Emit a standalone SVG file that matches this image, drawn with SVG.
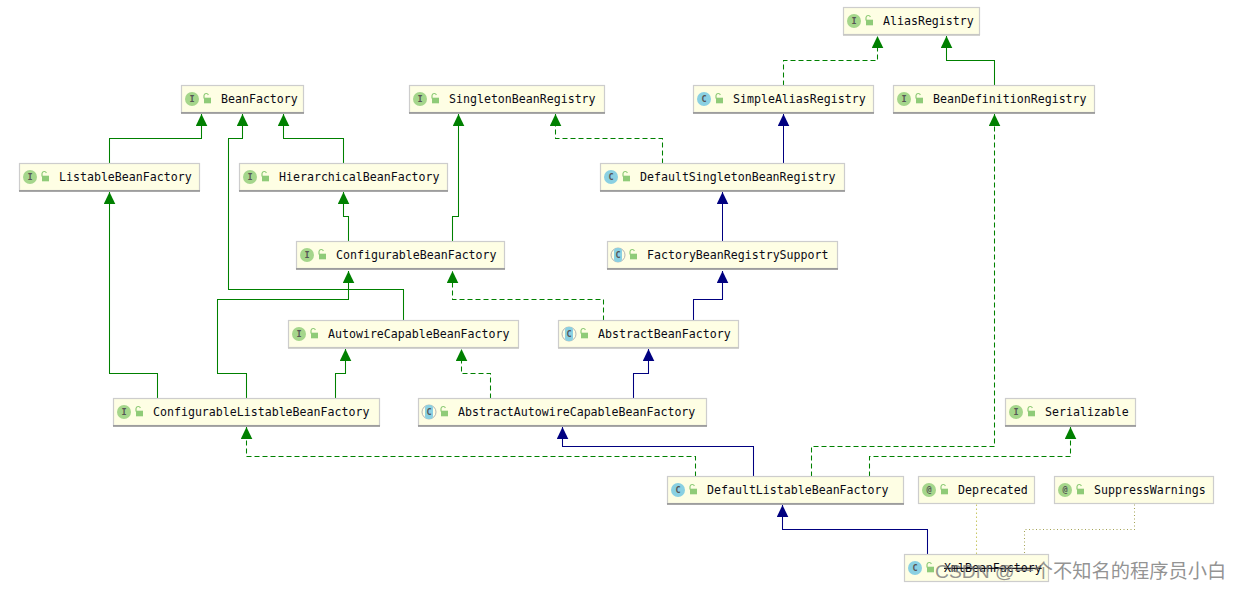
<svg xmlns="http://www.w3.org/2000/svg" width="1239" height="590" viewBox="0 0 1239 590">
<style>
.box{fill:#fefee4;stroke:#cdcdcd;stroke-width:1.2}
.base{stroke:#8c8c8c;stroke-width:1.4;fill:none}
.pale{stroke:#c4c4c0;stroke-width:1.4;fill:none}
.name{font-family:"DejaVu Sans Mono","Liberation Mono",monospace;font-size:11.6px;fill:#0a0a14}
.glyph{font-family:"DejaVu Sans Mono","Liberation Mono",monospace;font-size:8.5px;font-weight:bold;fill:#555;text-anchor:middle}
.i{fill:#a5d68b}
.c{fill:#8ad0e2}
.ring{fill:none;stroke:#b5b5b5;stroke-width:1}
.wire{fill:none;stroke-width:1.05}
.g{stroke:#008000;marker-end:url(#ag)}
.n{stroke:#000080;marker-end:url(#an)}
.d{stroke-dasharray:5 3}
.y{stroke:#c9c765;stroke-dasharray:1.5 2.5}
.w{stroke:#a3a356;stroke-dasharray:1 2.5}
.mark{font-family:"Liberation Sans","Noto Sans CJK SC",sans-serif;font-size:19.25px;fill:#777;fill-opacity:.8}
</style>
<defs>
<marker id="ag" markerUnits="userSpaceOnUse" markerWidth="12" markerHeight="12" refX="12" refY="6" orient="auto"><path d="M0 0.2L12 6L0 11.8z" fill="#008000"/></marker>
<marker id="an" markerUnits="userSpaceOnUse" markerWidth="12" markerHeight="12" refX="12" refY="6" orient="auto"><path d="M0 0.2L12 6L0 11.8z" fill="#000080"/></marker>
<g id="lock"><path d="M2 0.5V-2.5a2.3 2.3 0 0 1 4.4 -.6" fill="none" stroke="#8fcb78" stroke-width="1.2"/><rect x="2" y="-0.3" width="7" height="5.6" fill="#8fcb78"/></g>
</defs>

<g id="connectors" transform="translate(.5 .5)">
<path class="wire g" d="M109 163V138H201V113.500"/>
<path class="wire g" d="M403 320V289H228V138H242V113.500"/>
<path class="wire g" d="M343 163V138H283V113.500"/>
<path class="wire g" d="M348 241V216H343V191.500"/>
<path class="wire g" d="M452 241V216H458V113.500"/>
<path class="wire g d" d="M783 85V60H877V35.500"/>
<path class="wire g" d="M994 85V60H946V35.500"/>
<path class="wire n" d="M783 163V113.500"/>
<path class="wire g d" d="M662 163V138H555V113.500"/>
<path class="wire n" d="M722 241V191.500"/>
<path class="wire n" d="M693 320V299H722V270.500"/>
<path class="wire g d" d="M603 320V299H452V270.500"/>
<path class="wire g" d="M246 398V373H217V299H348V270.500"/>
<path class="wire g" d="M157 398V373H109V191.500"/>
<path class="wire g" d="M335 398V373H345V348.500"/>
<path class="wire g d" d="M490 398V373H461V348.500"/>
<path class="wire n" d="M633 398V373H648V348.500"/>
<path class="wire n" d="M753 476V446H562V426.500"/>
<path class="wire g d" d="M695 476V456H246V426.500"/>
<path class="wire g d" d="M811 476V446H994V113.500"/>
<path class="wire g d" d="M869 476V456H1070V426.500"/>
<path class="wire n" d="M927 554V529H782V504.500"/>
<path class="wire y" d="M976 504V554"/>
<path class="wire w" d="M1134 504V529H1024V554"/>
</g>

<g id="AliasRegistry"><rect class="box" x="843.500" y="7.500" width="136" height="27"/><path class="pale" d="M843 35H980"/><circle class="i" cx="854" cy="21" r="7"/><text class="glyph" x="854" y="24">I</text><use href="#lock" x="864" y="20"/><text class="name" x="883" y="25">AliasRegistry</text></g>
<g id="BeanFactory"><rect class="box" x="181.500" y="85.500" width="122" height="27"/><path class="base" d="M181 113H304"/><circle class="i" cx="192" cy="99" r="7"/><text class="glyph" x="192" y="102">I</text><use href="#lock" x="202" y="98"/><text class="name" x="221" y="103">BeanFactory</text></g>
<g id="SingletonBeanRegistry"><rect class="box" x="409.500" y="85.500" width="195" height="27"/><path class="base" d="M409 113H605"/><circle class="i" cx="420" cy="99" r="7"/><text class="glyph" x="420" y="102">I</text><use href="#lock" x="430" y="98"/><text class="name" x="449" y="103">SingletonBeanRegistry</text></g>
<g id="SimpleAliasRegistry"><rect class="box" x="693.500" y="85.500" width="180" height="27"/><path class="base" d="M693 113H874"/><circle class="c" cx="704" cy="99" r="7"/><text class="glyph" x="704" y="102">C</text><use href="#lock" x="714" y="98"/><text class="name" x="733" y="103">SimpleAliasRegistry</text></g>
<g id="BeanDefinitionRegistry"><rect class="box" x="893.500" y="85.500" width="201" height="27"/><path class="base" d="M893 113H1095"/><circle class="i" cx="904" cy="99" r="7"/><text class="glyph" x="904" y="102">I</text><use href="#lock" x="914" y="98"/><text class="name" x="933" y="103">BeanDefinitionRegistry</text></g>
<g id="ListableBeanFactory"><rect class="box" x="19.500" y="163.500" width="180" height="27"/><path class="base" d="M19 191H200"/><circle class="i" cx="30" cy="177" r="7"/><text class="glyph" x="30" y="180">I</text><use href="#lock" x="40" y="176"/><text class="name" x="59" y="181">ListableBeanFactory</text></g>
<g id="HierarchicalBeanFactory"><rect class="box" x="239.500" y="163.500" width="208" height="27"/><path class="base" d="M239 191H448"/><circle class="i" cx="250" cy="177" r="7"/><text class="glyph" x="250" y="180">I</text><use href="#lock" x="260" y="176"/><text class="name" x="279" y="181">HierarchicalBeanFactory</text></g>
<g id="DefaultSingletonBeanRegistry"><rect class="box" x="600.500" y="163.500" width="244" height="27"/><path class="base" d="M600 191H845"/><circle class="c" cx="611" cy="177" r="7"/><text class="glyph" x="611" y="180">C</text><use href="#lock" x="621" y="176"/><text class="name" x="640" y="181">DefaultSingletonBeanRegistry</text></g>
<g id="ConfigurableBeanFactory"><rect class="box" x="296.500" y="241.500" width="208" height="27"/><path class="base" d="M296 269H505"/><circle class="i" cx="307" cy="255" r="7"/><text class="glyph" x="307" y="258">I</text><use href="#lock" x="317" y="254"/><text class="name" x="336" y="259">ConfigurableBeanFactory</text></g>
<g id="FactoryBeanRegistrySupport"><rect class="box" x="607.500" y="241.500" width="230" height="27"/><path class="base" d="M607 269H838"/><circle class="ring" cx="618" cy="255" r="7"/><rect class="c" x="614" y="248" width="8" height="14" rx="3"/><text class="glyph" x="618" y="258">C</text><use href="#lock" x="628" y="254"/><text class="name" x="647" y="259">FactoryBeanRegistrySupport</text></g>
<g id="AutowireCapableBeanFactory"><rect class="box" x="288.500" y="320.500" width="230" height="27"/><path class="pale" d="M288 348H519"/><circle class="i" cx="299" cy="334" r="7"/><text class="glyph" x="299" y="337">I</text><use href="#lock" x="309" y="333"/><text class="name" x="328" y="338">AutowireCapableBeanFactory</text></g>
<g id="AbstractBeanFactory"><rect class="box" x="558.500" y="320.500" width="180" height="27"/><path class="pale" d="M558 348H739"/><circle class="ring" cx="569" cy="334" r="7"/><rect class="c" x="565" y="327" width="8" height="14" rx="3"/><text class="glyph" x="569" y="337">C</text><use href="#lock" x="579" y="333"/><text class="name" x="598" y="338">AbstractBeanFactory</text></g>
<g id="ConfigurableListableBeanFactory"><rect class="box" x="113.500" y="398.500" width="266" height="27"/><path class="base" d="M113 426H380"/><circle class="i" cx="124" cy="412" r="7"/><text class="glyph" x="124" y="415">I</text><use href="#lock" x="134" y="411"/><text class="name" x="153" y="416">ConfigurableListableBeanFactory</text></g>
<g id="AbstractAutowireCapableBeanFactory"><rect class="box" x="418.500" y="398.500" width="288" height="27"/><path class="base" d="M418 426H707"/><circle class="ring" cx="429" cy="412" r="7"/><rect class="c" x="425" y="405" width="8" height="14" rx="3"/><text class="glyph" x="429" y="415">C</text><use href="#lock" x="439" y="411"/><text class="name" x="458" y="416">AbstractAutowireCapableBeanFactory</text></g>
<g id="Serializable"><rect class="box" x="1005.500" y="398.500" width="130" height="27"/><path class="base" d="M1005 426H1136"/><circle class="i" cx="1016" cy="412" r="7"/><text class="glyph" x="1016" y="415">I</text><use href="#lock" x="1026" y="411"/><text class="name" x="1045" y="416">Serializable</text></g>
<g id="DefaultListableBeanFactory"><rect class="box" x="667.500" y="476.500" width="236" height="27"/><path class="base" d="M667 504H904"/><circle class="c" cx="678" cy="490" r="7"/><text class="glyph" x="678" y="493">C</text><use href="#lock" x="688" y="489"/><text class="name" x="707" y="494">DefaultListableBeanFactory</text></g>
<g id="Deprecated"><rect class="box" x="918.500" y="476.500" width="116" height="27"/><circle class="i" cx="929" cy="490" r="7"/><text class="glyph" x="929" y="493">@</text><use href="#lock" x="939" y="489"/><text class="name" x="958" y="494">Deprecated</text></g>
<g id="SuppressWarnings"><rect class="box" x="1054.500" y="476.500" width="159" height="27"/><circle class="i" cx="1065" cy="490" r="7"/><text class="glyph" x="1065" y="493">@</text><use href="#lock" x="1075" y="489"/><text class="name" x="1094" y="494">SuppressWarnings</text></g>
<g id="XmlBeanFactory"><rect class="box" x="904.500" y="554.500" width="144" height="27"/><circle class="c" cx="915" cy="568" r="7"/><text class="glyph" x="915" y="571">C</text><use href="#lock" x="925" y="567"/><text class="name" x="944" y="572" text-decoration="line-through">XmlBeanFactory</text></g>

<text class="mark" x="935" y="578">CSDN @一个不知名的程序员小白</text>
</svg>
